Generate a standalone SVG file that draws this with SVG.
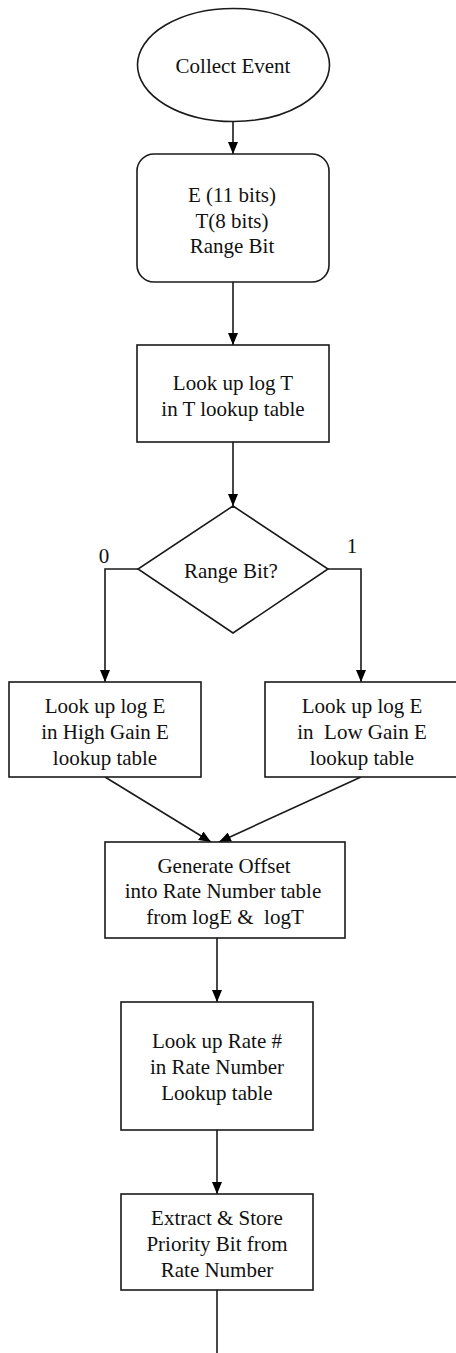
<svg xmlns="http://www.w3.org/2000/svg" width="456" height="1353" viewBox="0 0 456 1353">
<defs>
<marker id="ah" viewBox="0 0 12 10" refX="12" refY="5" markerWidth="12" markerHeight="10" markerUnits="userSpaceOnUse" orient="auto">
<path d="M0,0 L12,5 L0,10 Z" fill="#000"/>
</marker>
<style>
.s{fill:#fff;stroke:#1a1a1a;stroke-width:1.6}
.c{fill:none;stroke:#1a1a1a;stroke-width:1.6}
.t{font-family:"Liberation Serif","Times New Roman",serif;font-size:21px;fill:#111;text-anchor:middle}
</style>
</defs>
<rect width="456" height="1353" fill="#fff"/>
<g id="connectors">
<line class="c" x1="233" y1="122" x2="233" y2="154" marker-end="url(#ah)"/>
<line class="c" x1="233" y1="282" x2="233" y2="345" marker-end="url(#ah)"/>
<line class="c" x1="233" y1="442" x2="233" y2="506" marker-end="url(#ah)"/>
<polyline class="c" points="138,569 105,569 105,682" marker-end="url(#ah)"/>
<polyline class="c" points="328,569 361,569 361,682" marker-end="url(#ah)"/>
<line class="c" x1="105" y1="777" x2="211" y2="842" marker-end="url(#ah)"/>
<line class="c" x1="361" y1="777" x2="219" y2="842" marker-end="url(#ah)"/>
<line class="c" x1="217" y1="938" x2="217" y2="1002" marker-end="url(#ah)"/>
<line class="c" x1="217" y1="1130" x2="217" y2="1194" marker-end="url(#ah)"/>
<line class="c" x1="217" y1="1290" x2="217" y2="1353"/>
<text class="t" x="104" y="563">0</text>
<text class="t" x="352" y="553">1</text>
</g>
<g id="collect">
<ellipse class="s" cx="233.5" cy="65" rx="96" ry="56.5"/>
<text class="t" x="233" y="73">Collect Event</text>
</g>
<g id="fields">
<rect class="s" x="137" y="154" width="192" height="128" rx="17"/>
<text class="t" x="232" y="202">E (11 bits)</text>
<text class="t" x="232" y="228">T(8 bits)</text>
<text class="t" x="232" y="253">Range Bit</text>
</g>
<g id="lookupT">
<rect class="s" x="137" y="345" width="192" height="97"/>
<text class="t" x="233" y="390">Look up log T</text>
<text class="t" x="233" y="416">in T lookup table</text>
</g>
<g id="rangebit">
<polygon class="s" points="233,506 328,569 233,633 138,569"/>
<text class="t" x="231" y="578">Range Bit?</text>
</g>
<g id="highgain">
<rect class="s" x="9" y="682" width="192" height="95"/>
<text class="t" x="105" y="713">Look up log E</text>
<text class="t" x="105" y="739">in High Gain E</text>
<text class="t" x="105" y="765">lookup table</text>
</g>
<g id="lowgain">
<rect class="s" x="265" y="682" width="200" height="95"/>
<text class="t" x="362" y="713">Look up log E</text>
<text class="t" x="362" y="739" xml:space="preserve">in  Low Gain E</text>
<text class="t" x="362" y="765">lookup table</text>
</g>
<g id="offset">
<rect class="s" x="105" y="842" width="240" height="96"/>
<text class="t" x="224" y="873">Generate Offset</text>
<text class="t" x="223" y="898">into Rate Number table</text>
<text class="t" x="225" y="924" xml:space="preserve">from logE &amp;  logT</text>
</g>
<g id="ratenum">
<rect class="s" x="121" y="1002" width="192" height="128"/>
<text class="t" x="217" y="1048">Look up Rate #</text>
<text class="t" x="217" y="1074">in Rate Number</text>
<text class="t" x="217" y="1100">Lookup table</text>
</g>
<g id="extract">
<rect class="s" x="121" y="1194" width="192" height="96"/>
<text class="t" x="217" y="1225">Extract &amp; Store</text>
<text class="t" x="217" y="1251">Priority Bit from</text>
<text class="t" x="217" y="1277">Rate Number</text>
</g>
</svg>
